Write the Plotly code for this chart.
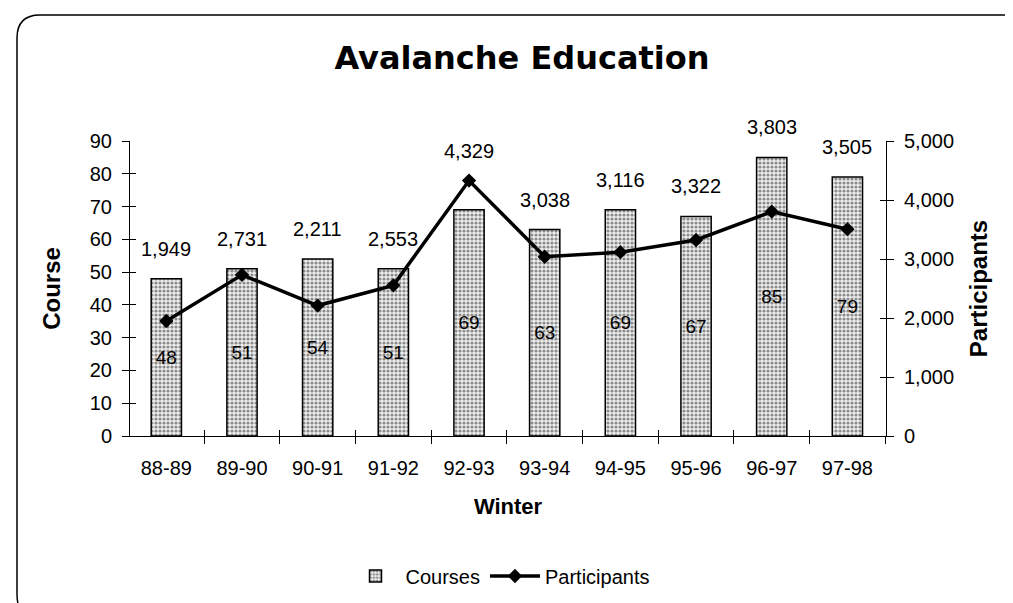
import plotly.graph_objects as go

winters = ["88-89", "89-90", "90-91", "91-92", "92-93", "93-94", "94-95", "95-96", "96-97", "97-98"]
courses = [48, 51, 54, 51, 69, 63, 69, 67, 85, 79]
participants = [1949, 2731, 2211, 2553, 4329, 3038, 3116, 3322, 3803, 3505]

W, H = 1013, 603
L, R, T, B = 122, 878, 133, 428  # plot area in pixels
Y1MAX, Y2MAX = 90, 5000
FONT = "Arial, Liberation Sans, sans-serif"
TICKFONT = dict(size=20, family=FONT, color="black")

def px(x, y):
    return (x - L) / (R - L), (B - y) / (B - T)

fig = go.Figure()

fig.add_trace(go.Bar(
    x=winters, y=courses, name="Courses",
    marker=dict(color="#d4d4d4", line=dict(color="black", width=1.5),
                pattern=dict(shape=".", fgcolor="#2a2a2a", bgcolor="#efefef",
                             size=4, solidity=0.5)),
    width=0.4,
    text=[str(v) for v in courses], textposition="inside",
    insidetextanchor="middle", textangle=0,
    insidetextfont=dict(color="black", size=19, family=FONT),
    yaxis="y", cliponaxis=False,
))

fig.add_trace(go.Scatter(
    x=winters, y=participants, name="Participants", mode="lines+markers",
    line=dict(color="black", width=3.5),
    marker=dict(symbol="diamond", size=11, color="black"),
    yaxis="y2",
))

# helper traces so the tick-crossing overlay axes are drawn
fig.add_trace(go.Scatter(x=winters, y=courses, xaxis="x2", yaxis="y3", mode="none",
                         showlegend=False, hoverinfo="skip"))
fig.add_trace(go.Scatter(x=winters, y=participants, xaxis="x2", yaxis="y4", mode="none",
                         showlegend=False, hoverinfo="skip"))

# participant labels above the higher of bar top / point
for w, c, p in zip(winters, courses, participants):
    top = max(c * Y2MAX / Y1MAX, p)
    fig.add_annotation(x=w, y=top, yref="y2", text=f"{p:,}", showarrow=False,
                       yshift=30, font=dict(size=20, family=FONT, color="black"))

# border (rounded corners)
pts = [(22, 606), (9, 606), (9, 586), (9, 30), (9, 7), (32, 7), (1003, 7), (1013, 7), (1016, 14)]
pp = [px(*p) for p in pts]
fmt = lambda p: f"{p[0]:.5f},{p[1]:.5f}"
path = (f"M {fmt(pp[0])} Q {fmt(pp[1])} {fmt(pp[2])} L {fmt(pp[3])} "
        f"Q {fmt(pp[4])} {fmt(pp[5])} L {fmt(pp[6])} Q {fmt(pp[7])} {fmt(pp[8])}")
fig.add_shape(type="path", path=path, xref="paper", yref="paper",
              line=dict(color="black", width=1.5), layer="above")

axis_common = dict(showgrid=False, zeroline=False, showline=True, linecolor="black",
                   linewidth=1, ticks="outside", tickcolor="black", ticklen=7,
                   tickfont=TICKFONT, automargin=False)
overlay_common = dict(showgrid=False, zeroline=False, showline=False, ticks="inside",
                      tickcolor="black", ticklen=6, showticklabels=False, automargin=False)
XRANGE = [-0.48, 9.51]

fig.update_layout(
    width=W, height=H,
    margin=dict(l=L, r=W - R, t=T, b=H - B),
    paper_bgcolor="white", plot_bgcolor="white",
    font=dict(family=FONT, color="black"),
    title=dict(text="<b>Avalanche Education</b>", x=514 / W, xanchor="center",
               y=1 - 50 / H, yanchor="middle", yref="container",
               font=dict(size=32, family="DejaVu Sans, Arial, sans-serif", color="black")),
    xaxis=dict(**axis_common, type="category", tickson="boundaries", range=XRANGE,
               ticklabelstandoff=14,
               title=dict(text="<b>Winter</b>", font=dict(size=22, family=FONT), standoff=20)),
    xaxis2=dict(**overlay_common, type="category", tickson="boundaries", range=XRANGE,
                overlaying="x", anchor="y3", side="bottom"),
    yaxis=dict(**axis_common, range=[0, Y1MAX], dtick=10, ticklabelstandoff=6,
               title=dict(text="<b>Course</b>", font=dict(size=24, family=FONT), standoff=22)),
    yaxis2=dict(**axis_common, range=[0, Y2MAX], dtick=1000, tickformat=",",
                overlaying="y", side="right", ticklabelstandoff=6,
                title=dict(text="<b>Participants</b>", font=dict(size=24, family=FONT), standoff=17)),
    yaxis3=dict(**overlay_common, range=[0, Y1MAX], dtick=10, overlaying="y", side="left",
                anchor="x2"),
    yaxis4=dict(**overlay_common, range=[0, Y2MAX], dtick=1000, overlaying="y", side="right",
                anchor="x2"),
    legend=dict(orientation="h", x=px(492, 0)[0], xanchor="center",
                y=px(0, 568)[1], yanchor="middle",
                font=dict(size=20, family=FONT, color="black"),
                itemwidth=50, tracegroupgap=0),
    showlegend=True,
)

fig.write_html("out.html")
